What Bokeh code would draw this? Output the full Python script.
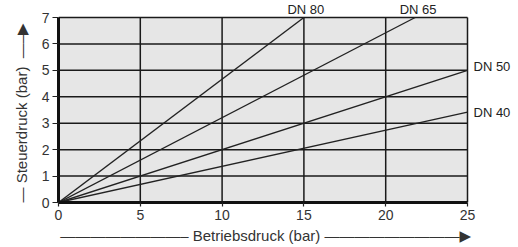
from bokeh.plotting import figure
from bokeh.models import Range1d, Label, FixedTicker, Title
from bokeh.embed import file_html
from bokeh.resources import INLINE

# data
series = ["DN 80", "DN 65", "DN 50", "DN 40"]
end_x = [15.0, 21.8, 25.0, 25.0]
end_y = [7.0, 7.0, 5.0, 3.42]
x_ticks = [0, 5, 10, 15, 20, 25]
y_ticks = [0, 1, 2, 3, 4, 5, 6, 7]
x_title = "Betriebsdruck (bar)"
y_title = "Steuerdruck (bar)"

# label placement (screen px, style only)
label_dx = [2, 3, 6, 6]
label_dy = [8, 8, 4, 0]

FONT = "Liberation Sans, DejaVu Sans"
L, B = 58, 45
FW, FH = 460, 202
PX_X = 409 / 25.0   # pixels per x unit
PX_Y = 185 / 7.0    # pixels per y unit
x_max = FW / PX_X
y_max = FH / PX_Y

p = figure(frame_width=FW, frame_height=FH, output_backend="svg", toolbar_location=None,
           x_range=Range1d(0, x_max), y_range=Range1d(0, y_max),
           min_border_left=L, min_border_right=0, min_border_top=0, min_border_bottom=B)
p.background_fill_color = "white"
p.border_fill_color = "white"
p.outline_line_color = None
p.grid.visible = False

x0, x1 = x_ticks[0], x_ticks[-1]
y0, y1 = y_ticks[0], y_ticks[-1]

# plot area background
p.quad(left=[x0], right=[x1], bottom=[y0], top=[y1], fill_color="#e6e6e6", line_color=None)

# grid lines
p.segment(x0=x_ticks[1:], y0=[y0] * (len(x_ticks) - 1), x1=x_ticks[1:], y1=[y1] * (len(x_ticks) - 1),
          line_color="#1a1a1a", line_width=1.5)
p.segment(x0=[x0] * (len(y_ticks) - 1), y0=y_ticks[1:], x1=[x1] * (len(y_ticks) - 1), y1=y_ticks[1:],
          line_color="#1a1a1a", line_width=1.5)

for ax, bnds in ((p.xaxis[0], (x0, x1)), (p.yaxis[0], (y0, y1))):
    ax.bounds = bnds
    ax.axis_line_color = "#111111"
    ax.axis_line_width = 3
    ax.major_tick_line_color = "#222222"
    ax.major_tick_line_width = 1.2
    ax.major_tick_in = 0
    ax.minor_tick_line_color = None
    ax.major_label_text_font = FONT
    ax.major_label_text_font_size = "14px"
    ax.major_label_text_color = "#333333"
p.xaxis.ticker = FixedTicker(ticks=x_ticks)
p.yaxis.ticker = FixedTicker(ticks=y_ticks)
p.xaxis.major_tick_out = 4
p.yaxis.major_tick_out = 6
p.xaxis.major_label_standoff = 3
p.yaxis.major_label_standoff = 3

# series lines from origin
for name, ex, ey, dx, dy in zip(series, end_x, end_y, label_dx, label_dy):
    p.line([0, ex], [0, ey], line_color="#222222", line_width=1.4)
    if ey >= y1:
        p.add_layout(Label(x=ex, y=ey, text=name, text_font=FONT, text_font_size="13px",
                           text_color="#222222", text_align="center", text_baseline="alphabetic",
                           x_offset=dx, y_offset=dy))
    else:
        p.add_layout(Label(x=ex, y=ey, text=name, text_font=FONT, text_font_size="13px",
                           text_color="#222222", text_align="left", text_baseline="middle",
                           x_offset=dx, y_offset=dy))

# axis titles with arrow lines
em, en = "\u2014", "\u2013"
nbsp = "\u00a0"
xa = p.xaxis[0]
xa.axis_label = em * 8 + en + " " + x_title + " " + em * 8 + em + "\u25b6" + nbsp * 11
xa.axis_label_text_font = FONT
xa.axis_label_text_font_size = "15px"
xa.axis_label_text_font_style = "normal"
xa.axis_label_text_color = "#333333"
xa.axis_label_standoff = 4

yt = Title(text=em + " " + y_title + " " + nbsp + em + en + "\u25b6", align="left", offset=0,
           text_font=FONT, text_font_size="15px", text_font_style="normal", text_color="#333333",
           standoff=18)
p.add_layout(yt, "left")

open("out.html", "w").write(file_html(p, INLINE))
